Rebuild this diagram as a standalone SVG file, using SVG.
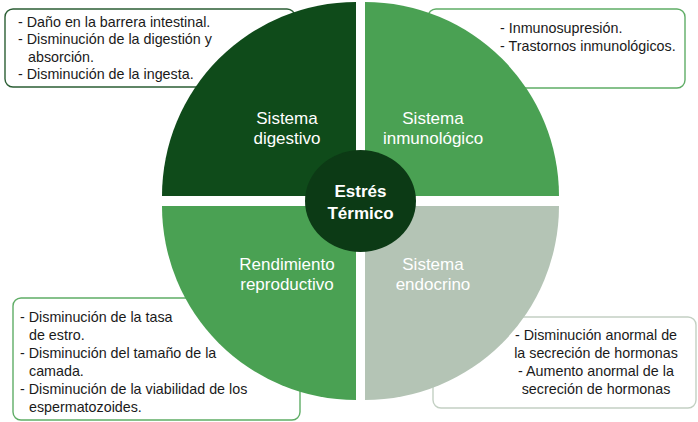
<svg xmlns="http://www.w3.org/2000/svg" width="698" height="422" viewBox="0 0 698 422">
<style>
.box{fill:#ffffff;stroke-width:1.4}
.bt{font-family:"Liberation Sans",Arial,sans-serif;font-size:14.3px;fill:#1a1a1a}
.ql{font-family:"Liberation Sans",Arial,sans-serif;font-size:17px;fill:#ffffff;text-anchor:middle}
.ct{font-family:"Liberation Sans",Arial,sans-serif;font-size:17px;font-weight:bold;fill:#ffffff;text-anchor:middle}
</style>
<rect width="698" height="422" fill="#ffffff"/>
<g id="box-digestivo">
<rect class="box" x="5" y="9" width="290" height="78" rx="8" stroke="#2b5e34"/>
<text class="bt" x="18" y="26.5">- Daño en la barrera intestinal.</text>
<text class="bt" x="18" y="44">- Disminución de la digestión y</text>
<text class="bt" x="28" y="61.5">absorción.</text>
<text class="bt" x="18" y="79">- Disminución de la ingesta.</text>
</g>
<g id="box-inmunologico">
<rect class="box" x="428" y="9" width="257" height="79" rx="8" stroke="#5fad66"/>
<text class="bt" x="500" y="33">- Inmunosupresión.</text>
<text class="bt" x="500" y="50.5">- Trastornos inmunológicos.</text>
</g>
<g id="box-reproductivo">
<rect class="box" x="13" y="298" width="287" height="122" rx="8" stroke="#5fad66"/>
<text class="bt" x="20" y="322">- Disminución de la tasa</text>
<text class="bt" x="29" y="340">de estro.</text>
<text class="bt" x="20" y="358">- Disminución del tamaño de la</text>
<text class="bt" x="29" y="376">camada.</text>
<text class="bt" x="20" y="393.5">- Disminución de la viabilidad de los</text>
<text class="bt" x="29" y="411.5">espermatozoides.</text>
</g>
<g id="box-endocrino">
<rect class="box" x="433" y="317" width="263" height="91" rx="8" stroke="#c3d0c3"/>
<text class="bt" x="596" y="340" text-anchor="middle">- Disminución anormal de</text>
<text class="bt" x="596" y="358" text-anchor="middle">la secreción de hormonas</text>
<text class="bt" x="596" y="376" text-anchor="middle">- Aumento anormal de la</text>
<text class="bt" x="596" y="393.5" text-anchor="middle">secreción de hormonas</text>
</g>
<g id="q-digestivo">
<path d="M356,196 L162,196 A194,194 0 0 1 356,2 Z" fill="#0f4b1a"/>
<text class="ql" x="287" y="124">Sistema</text>
<text class="ql" x="287" y="143.5">digestivo</text>
</g>
<g id="q-inmunologico">
<path d="M365,196 L365,2 A194,194 0 0 1 559,196 Z" fill="#4aa153"/>
<text class="ql" x="433" y="124">Sistema</text>
<text class="ql" x="433" y="143.5">inmunológico</text>
</g>
<g id="q-reproductivo">
<path d="M356,206 L356,400 A194,194 0 0 1 162,206 Z" fill="#4aa153"/>
<text class="ql" x="287" y="270">Rendimiento</text>
<text class="ql" x="287" y="289.5">reproductivo</text>
</g>
<g id="q-endocrino">
<path d="M365,206 L559,206 A194,194 0 0 1 365,400 Z" fill="#b4c4b5"/>
<text class="ql" x="433" y="270" fill="#f2f5f2">Sistema</text>
<text class="ql" x="433" y="289.5" fill="#f2f5f2">endocrino</text>
</g>
<g id="centro">
<ellipse cx="360.5" cy="201" rx="55.5" ry="51" fill="#0c3a15"/>
<text class="ct" x="360.5" y="197">Estrés</text>
<text class="ct" x="360.5" y="219">Térmico</text>
</g>
<g id="connectors"></g>
</svg>
